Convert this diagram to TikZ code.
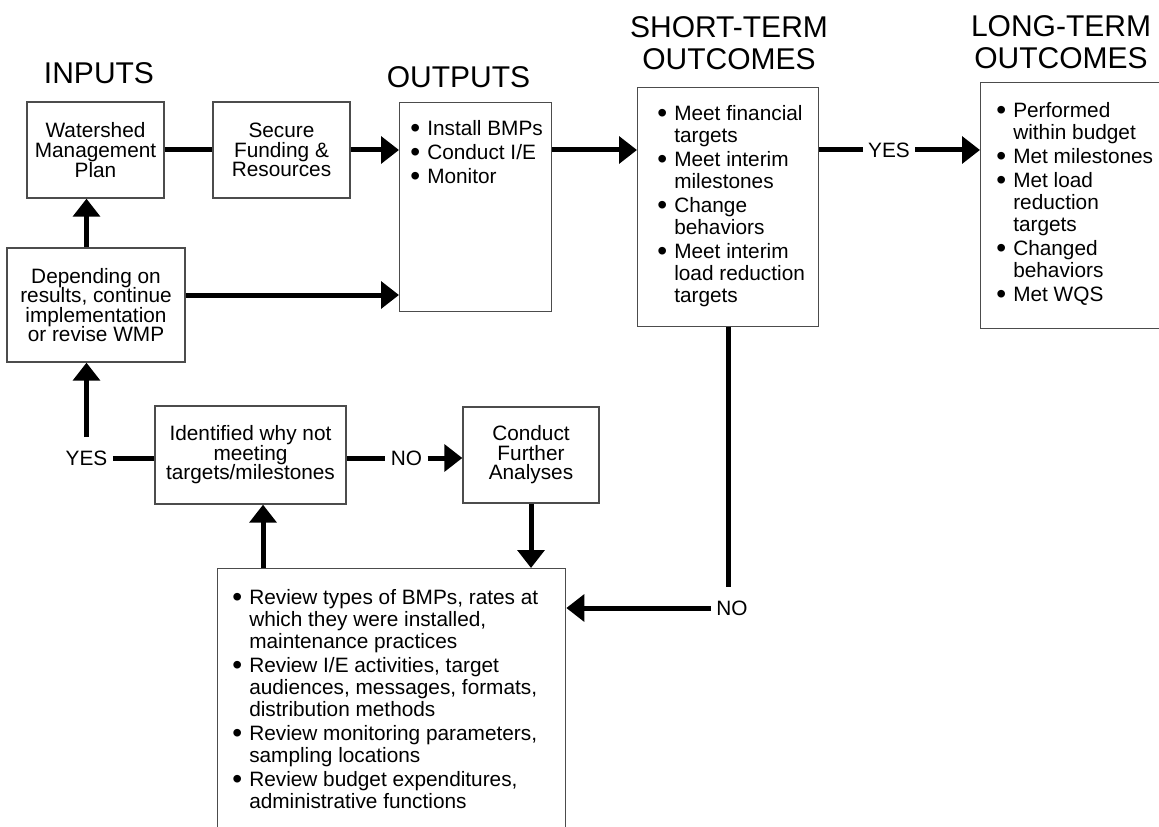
\documentclass[tikz,border=0pt]{standalone}
\usepackage{fontspec}
\usepackage{graphicx}
\setmainfont{Liberation Sans}
\usetikzlibrary{arrows.meta}
\newlength\px
\setlength\px{0.75pt}
\newcommand{\bodyfont}{\fontsize{15.6}{14.7}\selectfont}
\newcommand{\listfont}{\fontsize{15.6}{16.5}\selectfont}
\newcommand{\headfont}{\fontsize{22.5}{24}\selectfont}
\newcommand{\bul}{\makebox[17\px][l]{\raisebox{-0.1em}{\scalebox{1.35}{\textbullet}}}}

\begin{document}
\begin{tikzpicture}[x=0.75pt,y=-0.75pt,
  box/.style={draw=black!70, line width=1pt, inner sep=0pt, align=center, font=\bodyfont},
  lst/.style={font=\listfont, inner sep=0pt, anchor=north west},
  head/.style={font=\headfont, align=center, inner sep=0pt},
  lbl/.style={font=\bodyfont, inner xsep=4pt, inner ysep=10pt},
  link/.style={line width=3.75pt},
  arr/.style={line width=3.75pt, -{Triangle[length=13.5pt,width=20pt]}}]
  \useasboundingbox (0,0) rectangle (1159,827);
  \clip (0,0) rectangle (1159,827);

  \node[head] (tin) at (99,73) {INPUTS};
  \node[head] (tout) at (458.5,77) {OUTPUTS};
  \node[head] (tst) at (729,43) {SHORT-TERM\\OUTCOMES};
  \node[head] (tlt) at (1061,42) {LONG-TERM\\OUTCOMES};

  \node[box, minimum width=137\px, minimum height=96\px] (wmp) at (95.5,150) {Watershed\\Management\\Plan};
  \node[box, minimum width=137\px, minimum height=96\px] (fund) at (281.5,150) {Secure\\Funding \&\\Resources};
  \node[box, anchor=north west, minimum width=152\px, minimum height=209\px] (outp) at (399,102) {};
  \node[box, anchor=north west, minimum width=181\px, minimum height=239\px] (st) at (637,87) {};
  \node[box, anchor=north west, minimum width=200\px, minimum height=246\px] (lt) at (980,82) {};
  \node[box, minimum width=178\px, minimum height=114\px] (dep) at (96,305) {Depending on\\results, continue\\implementation\\or revise WMP};
  \node[box, minimum width=191\px, minimum height=98\px] (why) at (250.5,455) {Identified why not\\meeting\\targets/milestones};
  \node[box, minimum width=136\px, minimum height=96\px] (fa) at (531,455) {Conduct\\Further\\Analyses};
  \node[box, anchor=north west, minimum width=348\px, minimum height=300\px] (rev) at (217,568) {};

  \node[lst] (outpl) at ([shift={(11,18)}]outp.north west) {\begin{tabular}{@{}l@{}l@{}}
    \bul & Install BMPs\\[1.5pt]
    \bul & Conduct I/E\\[1.5pt]
    \bul & Monitor
  \end{tabular}};
  \node[lst] (stl) at ([shift={(20,18)}]st.north west) {\begin{tabular}{@{}l@{}l@{}}
    \bul & Meet financial\\ & targets\\[1.5pt]
    \bul & Meet interim\\ & milestones\\[1.5pt]
    \bul & Change\\ & behaviors\\[1.5pt]
    \bul & Meet interim\\ & load reduction\\ & targets
  \end{tabular}};
  \node[lst] (ltl) at ([shift={(16,20)}]lt.north west) {\begin{tabular}{@{}l@{}l@{}}
    \bul & Performed\\ & within budget\\[1.5pt]
    \bul & Met milestones\\[1.5pt]
    \bul & Met load\\ & reduction\\ & targets\\[1.5pt]
    \bul & Changed\\ & behaviors\\[1.5pt]
    \bul & Met WQS
  \end{tabular}};
  \node[lst] (revl) at ([shift={(15,21)}]rev.north west) {\begin{tabular}{@{}l@{}l@{}}
    \bul & Review types of BMPs, rates at\\ & which they were installed,\\ & maintenance practices\\[1.5pt]
    \bul & Review I/E activities, target\\ & audiences, messages, formats,\\ & distribution methods\\[1.5pt]
    \bul & Review monitoring parameters,\\ & sampling locations\\[1.5pt]
    \bul & Review budget expenditures,\\ & administrative functions
  \end{tabular}};

  \node[lbl] (yes1) at (889,150) {YES};
  \node[lbl] (no1) at (406.5,458) {NO};
  \node[lbl] (yes2) at (86.5,458) {YES};
  \node[lbl] (no2) at (732,608) {NO};

  \draw[link] (wmp) -- (fund);
  \draw[arr] (fund) -- (fund -| outp.west);
  \draw[arr] (outp.east |- fund) -- (st.west |- fund);
  \draw[link] (st.east |- yes1) -- (yes1);
  \draw[arr] (yes1) -- (yes1 -| lt.west);
  \draw[arr] (dep.north -| yes2) -- (wmp.south -| yes2);
  \draw[arr] ([yshift=7.5pt]dep.east) -- ([yshift=7.5pt]dep.east -| outp.west);
  \draw[arr] (yes2) -- (yes2 |- dep.south);
  \draw[link] (yes2) -- (yes2 -| why.west);
  \draw[link] (no1 -| why.east) -- (no1);
  \draw[arr] (no1) -- (no1 -| fa.west);
  \draw[arr] (fa) -- (fa |- rev.north);
  \draw[arr] ([xshift=9.4pt]why.south |- rev.north) -- ([xshift=9.4pt]why.south);
  \draw[link] (st) -- (st |- no2.north);
  \draw[arr] (no2) -- (no2 -| rev.east);
\end{tikzpicture}
\end{document}
